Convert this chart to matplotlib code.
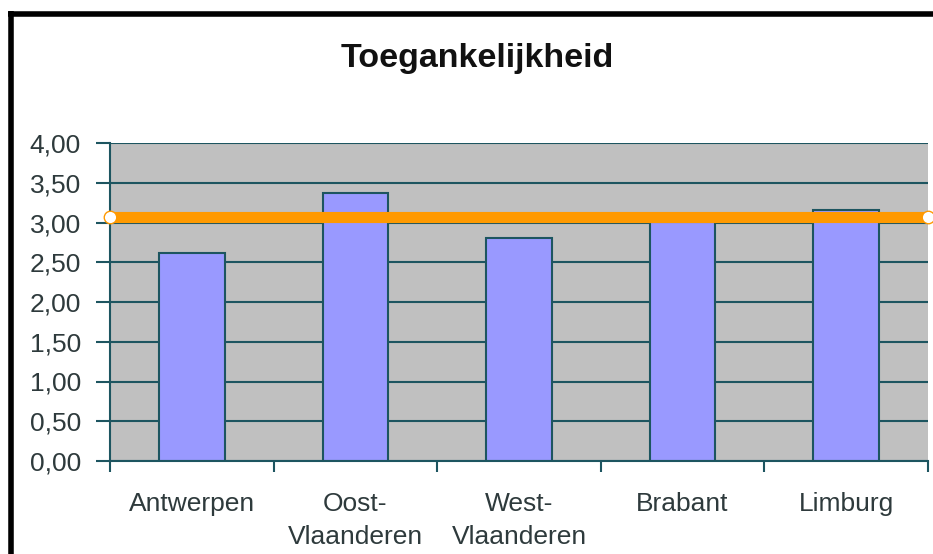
import matplotlib

matplotlib.use("Agg")

import matplotlib.pyplot as plt
from matplotlib.lines import Line2D

regions = ["Antwerpen", "Oost-\nVlaanderen", "West-\nVlaanderen", "Brabant", "Limburg"]
scores = [2.62, 3.37, 2.80, 3.01, 3.16]
reference = 3.07
y_ticks = [0.0, 0.5, 1.0, 1.5, 2.0, 2.5, 3.0, 3.5, 4.0]

edge = "#1d5560"
text_col = "#2e3a3c"

plt.rcParams["font.family"] = ["Liberation Sans", "DejaVu Sans"]

fig = plt.figure(figsize=(9.33, 5.54), dpi=100)
ax = fig.add_axes([110 / 933, 1 - 461 / 554, 818 / 933, 318 / 554])
ax.set_facecolor("#c0c0c0")

x = list(range(len(regions)))
ax.set_axisbelow(True)
ax.yaxis.grid(True, color=edge, linewidth=1.5)
ax.bar(x, scores, width=0.4, color="#9999ff", edgecolor=edge, linewidth=1.5, zorder=2)
ax.plot([-0.5, len(regions) - 0.5], [reference, reference], color="#ff9900",
        linewidth=8, marker="o", markersize=9, markerfacecolor="white",
        markeredgecolor="#ff9900", markeredgewidth=1, zorder=3, clip_on=False,
        solid_capstyle="butt")

ax.set_xlim(-0.5, len(regions) - 0.5)
ax.set_ylim(0, 4)
ax.set_yticks(y_ticks)
ax.set_yticklabels([f"{v:.2f}".replace(".", ",") for v in y_ticks])

ax.set_xticks([i - 0.5 for i in range(len(regions) + 1)])
ax.set_xticklabels([])
ax.set_xticks(x, minor=True)
ax.set_xticklabels(regions, minor=True, linespacing=1.5)
ax.tick_params(axis="x", which="major", length=8, width=1.5, color=edge)
ax.tick_params(axis="x", which="minor", length=0, pad=22, labelsize=19, labelcolor=text_col)
ax.tick_params(axis="y", length=10, width=1.5, color=edge, pad=11, labelsize=19, labelcolor=text_col)

for side in ["top", "right"]:
    ax.spines[side].set_visible(False)
for side in ["left", "bottom"]:
    ax.spines[side].set_color(edge)
    ax.spines[side].set_linewidth(1.5)

fig.text(477 / 933, 1 - 58 / 554, "Toegankelijkheid", ha="center", va="center",
         fontsize=24.5, fontweight="bold", color="#111111")

# black frame on top and left, as in the source screenshot
fig.add_artist(Line2D([8 / 933, 1], [1 - 13.5 / 554] * 2, color="black", linewidth=4,
                      solid_capstyle="butt", transform=fig.transFigure))
fig.add_artist(Line2D([10.5 / 933] * 2, [0, 1 - 11 / 554], color="black", linewidth=4,
                      solid_capstyle="butt", transform=fig.transFigure))

fig.savefig("out.png", dpi=100)
